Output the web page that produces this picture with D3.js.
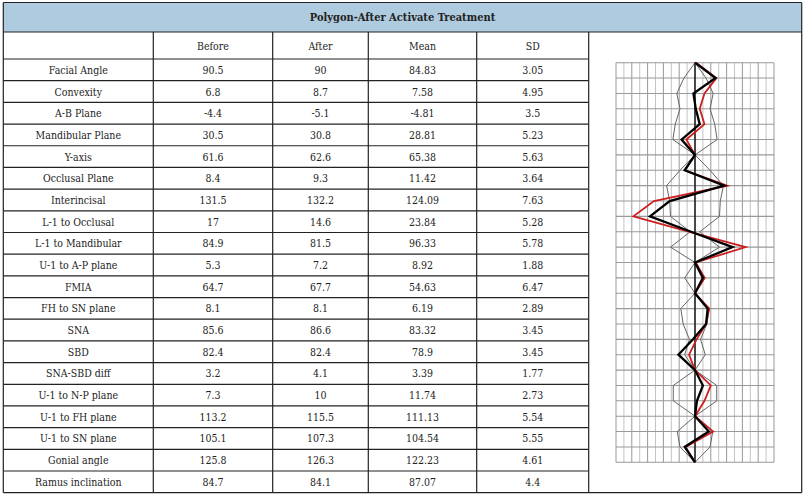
<!DOCTYPE html>
<html><head><meta charset="utf-8">
<script src="https://cdn.jsdelivr.net/npm/d3@7"></script>
<style>body{margin:0;background:#fff}</style></head>
<body><svg id="c" width="806" height="498"></svg>
<script>
const title = "Polygon-After Activate Treatment";
const columns = ["", "Before", "After", "Mean", "SD"];
const measures = ["Facial Angle","Convexity","A-B Plane","Mandibular Plane","Y-axis","Occlusal Plane","Interincisal","L-1 to Occlusal","L-1 to Mandibular","U-1 to A-P plane","FMIA","FH to SN plane","SNA","SBD","SNA-SBD diff","U-1 to N-P plane","U-1 to FH plane","U-1 to SN plane","Gonial angle","Ramus inclination"];
const before = ["90.5","6.8","-4.4","30.5","61.6","8.4","131.5","17","84.9","5.3","64.7","8.1","85.6","82.4","3.2","7.3","113.2","105.1","125.8","84.7"];
const after  = ["90","8.7","-5.1","30.8","62.6","9.3","132.2","14.6","81.5","7.2","67.7","8.1","86.6","82.4","4.1","10","115.5","107.3","126.3","84.1"];
const mean   = ["84.83","7.58","-4.81","28.81","65.38","11.42","124.09","23.84","96.33","8.92","54.63","6.19","83.32","78.9","3.39","11.74","111.13","104.54","122.23","87.07"];
const sd     = ["3.05","4.95","3.5","5.23","5.63","3.64","7.63","5.28","5.78","1.88","6.47","2.89","3.45","3.45","1.77","2.73","5.54","5.55","4.61","4.4"];

// polygon chart (grid units, offset from centre line)
const envelope = [0,1.4,2.3,1.9,2.5,2.8,0,1.9,3.6,3.2,3.1,0.6,3.1,0,1.3,0,1.8,1.5,0.7,1.3,0,2.75,2.75,0,2.25,1.9,0];
const polyBefore = [0,2.6,-0.2,0.1,0.6,-1.7,0,-1.3,3.7,-3.2,-5.7,-0.5,4.75,0,1.0,0,1.6,1.4,-0.25,-2.1,0,1.0,0.25,0,1.75,-1.3,0];
const polyAfter  = [0.15,2.7,1.2,0.6,1.2,-1.1,0,-1.3,4.1,-5.2,-7.8,-0.7,6.4,0.1,1.2,0,1.8,1.4,0.2,-0.75,0,2.0,1.2,0,2.3,-1.2,0];

const svg = d3.select("#c");
const font = "'DejaVu Serif Condensed','DejaVu Serif',serif";
const colX = [3.3,153.3,272.7,368.3,476.7,588.7];
const tRight = 801.7, tTop = 2.5, titleB = 32, headB = 59, tBottom = 492.7;
const rowY = d3.scaleLinear().domain([0, measures.length]).range([headB, tBottom]);

svg.append("rect").attr("x",colX[0]).attr("y",tTop).attr("width",tRight-colX[0]).attr("height",titleB-tTop).attr("fill","#afcbdf");
svg.append("text").attr("x",(colX[0]+tRight)/2).attr("y",(tTop+titleB)/2+4).attr("text-anchor","middle")
  .attr("font-family",font).attr("font-weight","bold").attr("font-size",11).attr("fill","#222").text(title);

const g = svg.append("g").attr("font-family",font).attr("font-size",10.5).attr("fill","#222").attr("text-anchor","middle");
columns.forEach((c,i)=>{ if(c) g.append("text").attr("x",(colX[i]+colX[i+1])/2).attr("y",(titleB+headB)/2+4).text(c); });
const cols = [measures,before,after,mean,sd];
measures.forEach((m,r)=>{
  cols.forEach((arr,i)=>{
    g.append("text").attr("x",(colX[i]+colX[i+1])/2).attr("y",(rowY(r)+rowY(r+1))/2+4).text(arr[r]);
  });
});

const lines = svg.append("g").attr("stroke","#222").attr("stroke-width",1.2);
const hl = (x1,x2,y)=>lines.append("line").attr("x1",x1).attr("x2",x2).attr("y1",y).attr("y2",y);
const vl = (x,y1,y2)=>lines.append("line").attr("x1",x).attr("x2",x).attr("y1",y1).attr("y2",y2);
hl(colX[0],tRight,tTop); hl(colX[0],tRight,titleB); hl(colX[0],colX[5],headB); hl(colX[0],tRight,tBottom);
for(let r=1;r<measures.length;r++) hl(colX[0],colX[5],rowY(r));
vl(colX[0],tTop,tBottom); vl(tRight,tTop,tBottom);
for(let i=1;i<colX.length;i++) vl(colX[i],titleB,tBottom);

// polygon
const px = d3.scaleLinear().domain([-10,10]).range([616,774]);
const py = d3.scaleLinear().domain([0,envelope.length-1]).range([62.7,462.3]);
const pg = svg.append("g");
d3.range(-10,11).forEach(v=>pg.append("line").attr("x1",px(v)).attr("x2",px(v)).attr("y1",py(0)).attr("y2",py(envelope.length-1))
  .attr("stroke", v%2===0?"#999":"#c4c4c4").attr("stroke-width",1));
envelope.forEach((_,i)=>pg.append("line").attr("x1",px(-10)).attr("x2",px(10)).attr("y1",py(i)).attr("y2",py(i)).attr("stroke","#999").attr("stroke-width",1.1));
const ln = d3.line().x(d=>px(d[0])).y(d=>py(d[1]));
pg.append("path").attr("d",ln(envelope.map((v,i)=>[-v,i]))).attr("fill","none").attr("stroke","#666").attr("stroke-width",1);
pg.append("path").attr("d",ln(envelope.map((v,i)=>[v,i]))).attr("fill","none").attr("stroke","#666").attr("stroke-width",1);
pg.append("line").attr("x1",px(0)).attr("x2",px(0)).attr("y1",py(0)).attr("y2",py(envelope.length-1)).attr("stroke","#000").attr("stroke-width",1.3);
pg.append("path").attr("d",ln(polyAfter.map((v,i)=>[v,i]))).attr("fill","none").attr("stroke","#cc1f1f").attr("stroke-width",1.8);
pg.append("path").attr("d",ln(polyBefore.map((v,i)=>[v,i]))).attr("fill","none").attr("stroke","#000").attr("stroke-width",2.3);
</script></body></html>
